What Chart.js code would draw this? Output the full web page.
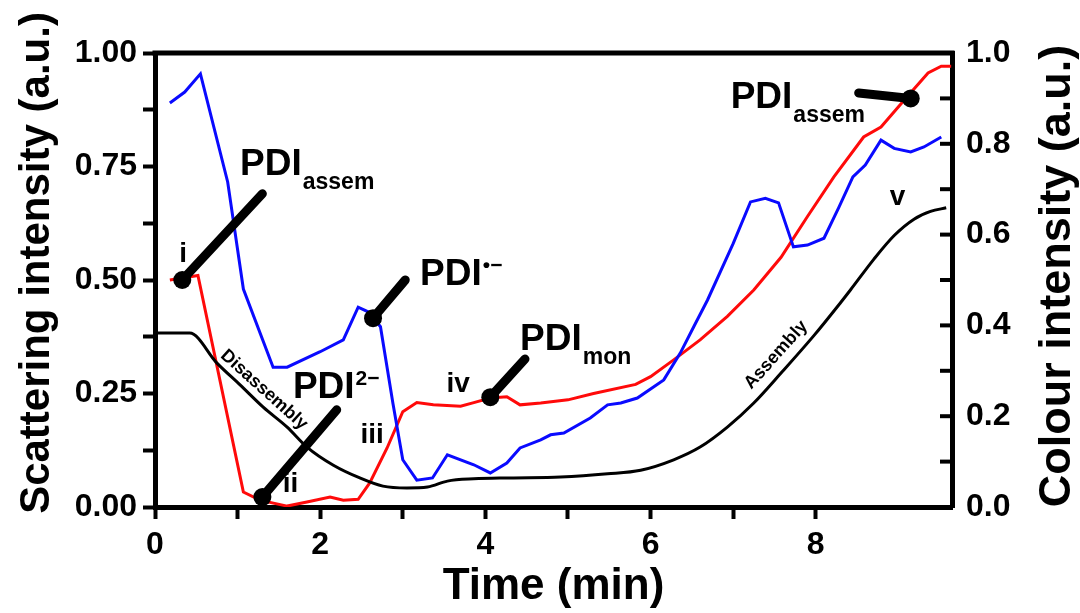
<!DOCTYPE html>
<html>
<head>
<meta charset="utf-8">
<script src="https://cdn.jsdelivr.net/npm/chart.js@4.4.0/dist/chart.umd.min.js"></script>
<style>
  html, body { margin: 0; padding: 0; background: #fff; }
  canvas { display: block; }
</style>
</head>
<body>
<canvas id="chart" width="1080" height="613"></canvas>
<script>
// red trace (colour intensity)
const redTime = [0.18, 0.52, 1.07, 1.27, 1.6, 1.84, 2.12, 2.28, 2.46, 2.6, 2.81, 3.0, 3.17, 3.37, 3.7, 3.86, 4.06, 4.26, 4.42, 4.67, 5.0, 5.31, 5.82, 6.0, 6.28, 6.6, 6.93, 7.25, 7.58, 7.9, 8.22, 8.58, 8.79, 9.07, 9.36, 9.52, 9.64];
const redValues = [0.50, 0.51, 0.033, 0.015, 0.002, 0.011, 0.022, 0.015, 0.017, 0.053, 0.13, 0.21, 0.23, 0.225, 0.222, 0.23, 0.24, 0.243, 0.225, 0.229, 0.236, 0.25, 0.27, 0.287, 0.324, 0.368, 0.42, 0.478, 0.55, 0.64, 0.727, 0.815, 0.837, 0.896, 0.956, 0.971, 0.971];

// blue trace
const blueTime = [0.18, 0.36, 0.55, 0.88, 1.07, 1.43, 1.6, 2.0, 2.28, 2.46, 2.58, 2.73, 2.88, 3.0, 3.17, 3.36, 3.54, 3.86, 4.06, 4.26, 4.42, 4.67, 4.79, 4.95, 5.27, 5.48, 5.64, 5.84, 6.16, 6.36, 6.52, 6.69, 7.0, 7.21, 7.39, 7.55, 7.73, 7.9, 8.1, 8.28, 8.45, 8.6, 8.79, 8.95, 9.15, 9.31, 9.52];
const blueValues = [0.89, 0.914, 0.954, 0.716, 0.48, 0.308, 0.308, 0.342, 0.368, 0.44, 0.43, 0.397, 0.229, 0.104, 0.059, 0.064, 0.115, 0.093, 0.075, 0.097, 0.13, 0.148, 0.159, 0.163, 0.196, 0.225, 0.229, 0.24, 0.28, 0.339, 0.396, 0.456, 0.58, 0.672, 0.68, 0.67, 0.573, 0.577, 0.592, 0.66, 0.727, 0.753, 0.808, 0.79, 0.782, 0.793, 0.815];

// black trace (scattering intensity)
const blackTime = [0, 0.42, 0.75, 1.03, 1.31, 1.6, 1.84, 2.16, 2.48, 2.76, 3.05, 3.3, 3.54, 3.86, 4.3, 4.91, 5.48, 5.88, 6.28, 6.6, 6.93, 7.25, 7.58, 7.98, 8.3, 8.42, 8.7, 8.95, 9.19, 9.39, 9.58];
const blackValues = [0.383, 0.383, 0.317, 0.269, 0.22, 0.176, 0.132, 0.092, 0.064, 0.046, 0.042, 0.044, 0.057, 0.062, 0.064, 0.066, 0.073, 0.081, 0.104, 0.132, 0.176, 0.229, 0.295, 0.378, 0.450, 0.478, 0.545, 0.598, 0.634, 0.651, 0.659];

// callouts: dot position and end of the pointer line (data units)
const calloutDots = [[0.33, 0.50], [2.64, 0.416], [1.30, 0.022], [4.06, 0.242], [9.15, 0.90]];
const calloutEnds = [[1.30, 0.69], [3.03, 0.50], [2.20, 0.214], [4.48, 0.326], [8.52, 0.912]];

// species labels: main text, subscript, superscript, anchor (left, baseline)
const speciesLabels = [
  { main: 'PDI', sub: 'assem', sup: '', at: [1.03, 0.731] },
  { main: 'PDI', sub: '', sup: '\u2022\u2212', at: [3.21, 0.489] },
  { main: 'PDI', sub: '', sup: '2\u2212', at: [1.67, 0.240] },
  { main: 'PDI', sub: 'mon', sup: '', at: [4.42, 0.346] },
  { main: 'PDI', sub: 'assem', sup: '', at: [6.97, 0.879] }
];

const stageLabels = ['i', 'ii', 'iii', 'iv', 'v'];
const stageAt = [[0.34, 0.54], [1.64, 0.033], [2.63, 0.141], [3.67, 0.253], [8.99, 0.665]];

const curveNotes = ['Disassembly', 'Assembly'];
const curveNoteAt = [[1.32, 0.258], [7.52, 0.335]];
const curveNoteAngle = [42, -48];

const leftTitle = 'Scattering intensity (a.u.)';
const rightTitle = 'Colour intensity (a.u.)';

const FONT = 'Liberation Sans, Arial, sans-serif';

const toPoints = (xs, ys) => xs.map((x, i) => ({ x, y: ys[i] }));

const overlay = {
  id: 'overlay',
  afterDatasetsDraw(chart) {
    const { ctx, chartArea } = chart;
    const sx = chart.scales.x;
    const sy = chart.scales.y;
    const px = (p) => [sx.getPixelForValue(p[0]), sy.getPixelForValue(p[1])];

    ctx.save();
    ctx.fillStyle = '#000';
    ctx.strokeStyle = '#000';

    // top frame
    ctx.lineWidth = 5;
    ctx.beginPath();
    ctx.moveTo(chartArea.left - 2.5, chartArea.top);
    ctx.lineTo(chartArea.right + 2.5, chartArea.top);
    ctx.stroke();

    // inward ticks on the right axis
    const r = chart.scales.y1;
    ctx.lineWidth = 4;
    r.ticks.forEach((t) => {
      const y = r.getPixelForValue(t.value);
      ctx.beginPath();
      ctx.moveTo(chartArea.right - 12, y);
      ctx.lineTo(chartArea.right, y);
      ctx.stroke();
    });

    // callout pointers
    ctx.lineWidth = 9;
    ctx.lineCap = 'round';
    calloutDots.forEach((d, i) => {
      const a = px(d), b = px(calloutEnds[i]);
      ctx.beginPath();
      ctx.moveTo(a[0], a[1]);
      ctx.lineTo(b[0], b[1]);
      ctx.stroke();
      ctx.beginPath();
      ctx.arc(a[0], a[1], 9, 0, Math.PI * 2);
      ctx.fill();
    });

    // PDI labels
    ctx.textAlign = 'left';
    ctx.textBaseline = 'alphabetic';
    speciesLabels.forEach((l) => {
      const p = px(l.at);
      ctx.font = 'bold 37px ' + FONT;
      ctx.fillText(l.main, p[0], p[1]);
      const w = ctx.measureText(l.main).width;
      if (l.sub) {
        ctx.font = 'bold 23px ' + FONT;
        ctx.fillText(l.sub, p[0] + w + 1, p[1] + 14);
      }
      if (l.sup) {
        ctx.font = 'bold 21px ' + FONT;
        ctx.fillText(l.sup, p[0] + w + 1, p[1] - 13);
      }
    });

    // stage numerals
    ctx.textAlign = 'center';
    ctx.font = 'bold 28px ' + FONT;
    stageLabels.forEach((s, i) => {
      const p = px(stageAt[i]);
      ctx.fillText(s, p[0], p[1]);
    });

    // curve notes along the black trace
    ctx.font = 'bold 18px ' + FONT;
    ctx.textBaseline = 'middle';
    curveNotes.forEach((s, i) => {
      const p = px(curveNoteAt[i]);
      ctx.save();
      ctx.translate(p[0], p[1]);
      ctx.rotate(curveNoteAngle[i] * Math.PI / 180);
      ctx.fillText(s, 0, 0);
      ctx.restore();
    });

    // vertical axis titles, both read bottom to top
    const vTitle = (text, x, y, size) => {
      ctx.save();
      ctx.translate(x, y);
      ctx.rotate(-Math.PI / 2);
      ctx.font = 'bold ' + size + 'px ' + FONT;
      ctx.fillText(text, 0, 0);
      ctx.restore();
    };
    vTitle(leftTitle, 37, 263, 42);
    vTitle(rightTitle, 1058, 276, 45);

    ctx.restore();
  }
};

const tickFont = { family: FONT, size: 32, weight: 'bold' };
const titleFont = { family: FONT, size: 44, weight: 'bold', lineHeight: 1 };

new Chart(document.getElementById('chart'), {
  type: 'line',
  data: {
    datasets: [
      {
        label: 'Scattering',
        data: toPoints(blackTime, blackValues),
        borderColor: '#000',
        borderWidth: 3,
        pointRadius: 0,
        cubicInterpolationMode: 'monotone',
        yAxisID: 'y'
      },
      {
        label: 'Blue',
        data: toPoints(blueTime, blueValues),
        borderColor: '#0a0aff',
        borderWidth: 3,
        pointRadius: 0,
        tension: 0,
        yAxisID: 'y1'
      },
      {
        label: 'Red',
        data: toPoints(redTime, redValues),
        borderColor: '#ff0a0a',
        borderWidth: 3,
        pointRadius: 0,
        tension: 0,
        yAxisID: 'y1'
      }
    ]
  },
  options: {
    responsive: false,
    animation: false,
    devicePixelRatio: 1,
    layout: { padding: { top: 53, left: 0, right: 0, bottom: 0 } },
    plugins: { legend: { display: false }, tooltip: { enabled: false } },
    scales: {
      x: {
        type: 'linear',
        min: 0,
        max: 9.65,
        afterBuildTicks: (s) => { s.ticks = s.ticks.filter((t) => Number.isInteger(t.value)); },
        afterFit: (s) => { s.height = 106; },
        ticks: {
          stepSize: 1,
          autoSkip: false,
          maxRotation: 0,
          padding: 7,
          color: '#000',
          font: tickFont,
          callback: (v) => (v % 2 === 0 ? v : '')
        },
        grid: { drawOnChartArea: false, tickLength: 12, tickWidth: 4, tickColor: '#000' },
        border: { color: '#000', width: 5 },
        title: { display: true, text: 'Time (min)', color: '#000', font: titleFont, padding: { top: 0, bottom: 4 } }
      },
      y: {
        position: 'left',
        min: 0,
        max: 1,
        afterFit: (s) => { s.width = 155; },
        ticks: {
          stepSize: 0.125,
          autoSkip: false,
          padding: 6,
          color: '#000',
          font: tickFont,
          callback: (v) => (Math.abs(v * 4 - Math.round(v * 4)) < 1e-6 ? v.toFixed(2) : '')
        },
        grid: { drawOnChartArea: false, tickLength: 12, tickWidth: 4, tickColor: '#000' },
        border: { color: '#000', width: 5 },
        title: { display: false }
      },
      y1: {
        position: 'right',
        min: 0,
        max: 1,
        afterFit: (s) => { s.width = 128; },
        ticks: {
          stepSize: 0.1,
          autoSkip: false,
          padding: 14,
          color: '#000',
          font: tickFont,
          callback: (v) => (Math.round(v * 10) % 2 === 0 ? v.toFixed(1) : '')
        },
        grid: { drawOnChartArea: false, drawTicks: false },
        border: { color: '#000', width: 5 },
        title: { display: false }
      }
    }
  },
  plugins: [overlay]
});
</script>
</body>
</html>
